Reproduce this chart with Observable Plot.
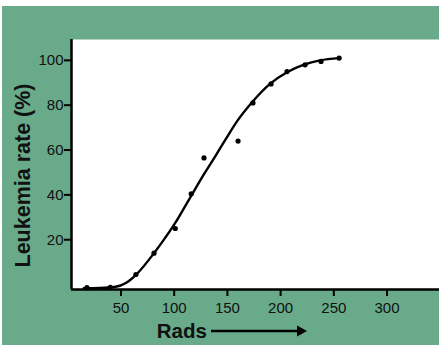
<!DOCTYPE html>
<html>
<head>
<meta charset="utf-8">
<script src="https://cdn.jsdelivr.net/npm/d3@7"></script>
<script src="https://cdn.jsdelivr.net/npm/@observablehq/plot@0.6"></script>
<style>
  html, body { margin: 0; padding: 0; background: #ffffff; overflow: hidden; }
  #chart svg { display: block; margin: 6px 0 0 2px; }
</style>
</head>
<body>
<div id="chart"></div>
<script>
// Observed data points (rads, leukemia rate %)
const doseRads = [18, 40, 64, 81, 101, 116, 128, 160, 174, 191, 206, 223, 238, 255];
const leukemiaRate = [-1.4, -1.2, 4.5, 14, 25, 40.5, 56.5, 64, 81, 89.5, 95, 98, 99.5, 101];

// Fitted curve
const curveRads = [15, 30, 45, 55, 65, 81, 90, 101, 115, 129, 139, 148, 159, 173, 190, 206, 222, 237, 255];
const curveRate = [-1.6, -1.5, -1.0, 0.8, 4.8, 14, 19.8, 27.5, 38.8, 50, 57.5, 64.5, 72.8, 81.2, 89.5, 94.7, 98.1, 100.0, 101.0];

// Axes
const xTicks = [50, 100, 150, 200, 250, 300];
const yTicks = [20, 40, 60, 80, 100];
const xDomain = [3.5, 349.3];
const yDomain = [-2.2, 109.3];
const yTitle = "Leukemia rate (%)";
const xTitle = "Rads";

const points = doseRads.map((x, i) => ({x, y: leukemiaRate[i]}));
const curve = curveRads.map((x, i) => ({x, y: curveRate[i]}));

const font = "'Liberation Sans', Arial, Helvetica, sans-serif";
const W = 437, H = 339;

const chart = Plot.plot({
  width: W,
  height: H,
  marginLeft: 69,
  marginRight: 0,
  marginTop: 33,
  marginBottom: 56,
  style: {background: "#68aa8a", fontFamily: font, fontSize: "15px", color: "#111"},
  x: {domain: xDomain},
  y: {domain: yDomain},
  marks: [
    Plot.frame({fill: "white", stroke: null}),
    Plot.axisX({ticks: xTicks, tickSize: 7, tickPadding: 6, strokeWidth: 2, fontSize: 15, label: null, stroke: "#000"}),
    Plot.axisY({ticks: yTicks, tickSize: 7, tickPadding: 1, strokeWidth: 2, fontSize: 15, label: null, stroke: "#000"}),
    Plot.ruleX([xDomain[0]], {stroke: "#000", strokeWidth: 2.5}),
    Plot.ruleY([yDomain[0]], {stroke: "#000", strokeWidth: 2.5}),
    Plot.line(curve, {x: "x", y: "y", curve: "monotone-x", stroke: "#000", strokeWidth: 2.4}),
    Plot.dot(points, {x: "x", y: "y", r: 2.6, fill: "#000", stroke: null})
  ]
});

document.getElementById("chart").appendChild(chart);

const svg = d3.select(chart);
svg.append("text")
  .attr("transform", "translate(27.5,169.5) rotate(-90)")
  .attr("text-anchor", "middle")
  .attr("font-family", font)
  .attr("font-weight", "bold")
  .attr("font-size", "21.5px")
  .attr("fill", "#111")
  .text(yTitle);

svg.append("text")
  .attr("x", 154.7)
  .attr("y", 332)
  .attr("text-anchor", "start")
  .attr("font-family", font)
  .attr("font-weight", "bold")
  .attr("font-size", "20.5px")
  .attr("fill", "#111")
  .text(xTitle);

svg.append("line")
  .attr("x1", 209).attr("x2", 298)
  .attr("y1", 325).attr("y2", 325)
  .attr("stroke", "#000").attr("stroke-width", 2.5);
svg.append("path")
  .attr("d", "M295,319.5 L305,325 L295,330.5 Z")
  .attr("fill", "#000");
</script>
</body>
</html>
